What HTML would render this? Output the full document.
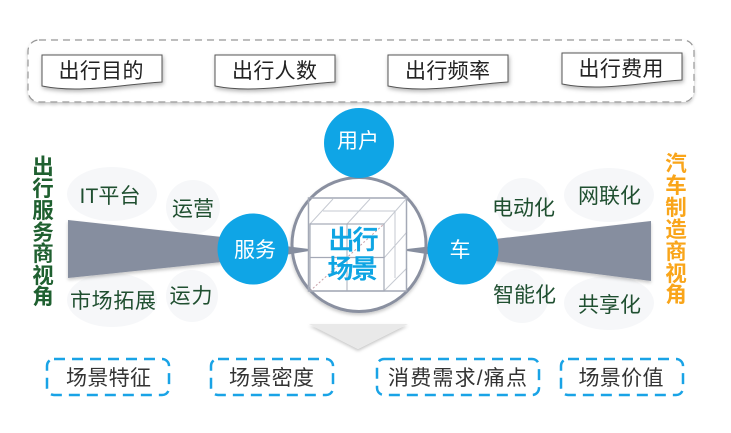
<!DOCTYPE html>
<html><head><meta charset="utf-8"><style>
html,body{margin:0;padding:0;background:#fff;width:731px;height:433px;overflow:hidden}
svg{display:block}
text{font-family:"Liberation Sans","Noto Sans CJK SC",sans-serif;text-anchor:middle}
.k{font-size:21px;fill:#222}
.g{font-size:21px;fill:#1f4f30}
.w{font-size:21px;fill:#fff}
.b{font-size:21px;fill:#333}
.c{font-size:26px;fill:#0ea5e3;font-weight:500;stroke:#0ea5e3;stroke-width:.5px}
.v1{font-size:21.500px;fill:#1f6030;font-weight:bold}
.v2{font-size:21.500px;fill:#f9a51a;font-weight:bold}
</style></head><body>
<svg width="731" height="433" viewBox="0 0 731 433" xmlns="http://www.w3.org/2000/svg">
<defs>
<filter id="s" x="-20%" y="-20%" width="140%" height="150%"><feDropShadow dx="1" dy="2" stdDeviation="2" flood-color="#000" flood-opacity=".3"/></filter>
<filter id="s2" x="-20%" y="-20%" width="140%" height="150%"><feDropShadow dx="0" dy="2" stdDeviation="1.5" flood-color="#000" flood-opacity=".22"/></filter>
</defs>

<rect x="28" y="40" width="666" height="62" rx="11" fill="#fff" stroke="#969696" stroke-width="1.200" stroke-dasharray="7 5" filter="url(#s2)"/>

<g fill="#fff" stroke="#555" stroke-width="1" filter="url(#s)">
<path d="M42 55H162V82C130 84 105 89 75 89C62 89 52 88 42 86Z"/>
<path d="M215 55H335V82C303 84 278 89 248 89C235 89 225 88 215 86Z"/>
<path d="M388 55H508V82C476 84 451 89 421 89C408 89 398 88 388 86Z"/>
<path d="M562 53H682V80C650 82 625 87 595 87C582 87 572 86 562 84Z"/>
</g>
<text class="k" x="101" y="78" textLength="85">出行目的</text>
<text class="k" x="274.500" y="78" textLength="85">出行人数</text>
<text class="k" x="447.500" y="78" textLength="85">出行频率</text>
<text class="k" x="621" y="76" textLength="85">出行费用</text>

<g fill="#f6f7f9">
<ellipse cx="112" cy="194" rx="45" ry="27"/>
<ellipse cx="193" cy="207" rx="27" ry="27"/>
<ellipse cx="112" cy="300" rx="45" ry="27"/>
<ellipse cx="192" cy="296" rx="26" ry="26"/>
<ellipse cx="523" cy="205" rx="27" ry="27"/>
<ellipse cx="609" cy="195" rx="45" ry="27"/>
<ellipse cx="522" cy="296" rx="27" ry="27"/>
<ellipse cx="609" cy="303" rx="45" ry="27"/>
</g>

<polygon points="68,220 222,237 222,262 68,278" fill="#868e9f" filter="url(#s2)"/>
<polygon points="495,239 651,221 651,281 495,261" fill="#868e9f" filter="url(#s2)"/>

<circle cx="359" cy="244.500" r="67" fill="#fff" stroke="#8a90a0" stroke-width="3" filter="url(#s2)"/>

<polygon points="285,246 309,249 309,251 285,255" fill="#868e9f"/>
<polygon points="407,249 433,246 433,255 407,251" fill="#868e9f"/>

<g fill="none" stroke="#c6cad2" stroke-width="1">
<path d="M310 224L333 199M323 211H395M384 224L407 198M347 224L370 199M395 211V278M384 291L407 268M384 258L407 232"/>
<path d="M347 224V291" stroke="#a9afbb"/>
</g>
<path d="M310 291L384 224" fill="none" stroke="#c9a0a8" stroke-width="1" stroke-dasharray="2 2"/>
<rect x="308.500" y="198" width="98" height="93" fill="none" stroke="#a4a9b6" stroke-width="1.500"/>
<rect x="310" y="224" width="74" height="67" fill="none" stroke="#a4a9b6" stroke-width="1.200"/>
<path d="M310 257.500H384" stroke="#a4a9b6" stroke-width="1.200"/>

<text class="c" x="353.500" y="249" textLength="50">出行</text>
<text class="c" x="352.500" y="278" textLength="50">场景</text>

<g fill="#0fa5e6">
<circle cx="359" cy="143" r="35"/>
<circle cx="253" cy="249" r="35.500"/>
<circle cx="463" cy="249" r="35.500"/>
</g>
<text class="w" x="358" y="148" textLength="42">用户</text>
<text class="w" x="255" y="257" textLength="42">服务</text>
<text class="w" x="460" y="257">车</text>

<text class="g" x="110" y="203" textLength="61">IT平台</text>
<text class="g" x="193" y="216" textLength="42">运营</text>
<text class="g" x="113" y="308" textLength="86">市场拓展</text>
<text class="g" x="191" y="303" textLength="43">运力</text>
<text class="g" x="523.500" y="215" textLength="63">电动化</text>
<text class="g" x="609.500" y="203" textLength="63">网联化</text>
<text class="g" x="524.500" y="302" textLength="63">智能化</text>
<text class="g" x="609.500" y="312" textLength="63">共享化</text>

<text class="v1" x="43" y="174">出</text>
<text class="v1" x="43" y="196">行</text>
<text class="v1" x="43" y="218">服</text>
<text class="v1" x="43" y="240">务</text>
<text class="v1" x="43" y="261">商</text>
<text class="v1" x="43" y="283">视</text>
<text class="v1" x="43" y="304">角</text>
<text class="v2" x="676" y="171">汽</text>
<text class="v2" x="676" y="193">车</text>
<text class="v2" x="676" y="215">制</text>
<text class="v2" x="676" y="237">造</text>
<text class="v2" x="676" y="259">商</text>
<text class="v2" x="676" y="281">视</text>
<text class="v2" x="676" y="302">角</text>

<polygon points="309,324 408,324 358,349" fill="#e9e9e9" filter="url(#s2)"/>

<g fill="#fff" stroke="#19a3e6" stroke-width="2.500" stroke-dasharray="11 7">
<rect x="47" y="359" width="122" height="36" rx="7"/>
<rect x="211" y="359" width="122" height="36" rx="7"/>
<rect x="377" y="359" width="162" height="36" rx="7"/>
<rect x="561" y="359" width="122" height="36" rx="7"/>
</g>
<text class="b" x="108.500" y="385" textLength="85">场景特征</text>
<text class="b" x="271.500" y="385" textLength="85">场景密度</text>
<text class="b" x="457.500" y="385" textLength="139">消费需求/痛点</text>
<text class="b" x="621" y="385" textLength="85">场景价值</text>
</svg>
</body></html>
